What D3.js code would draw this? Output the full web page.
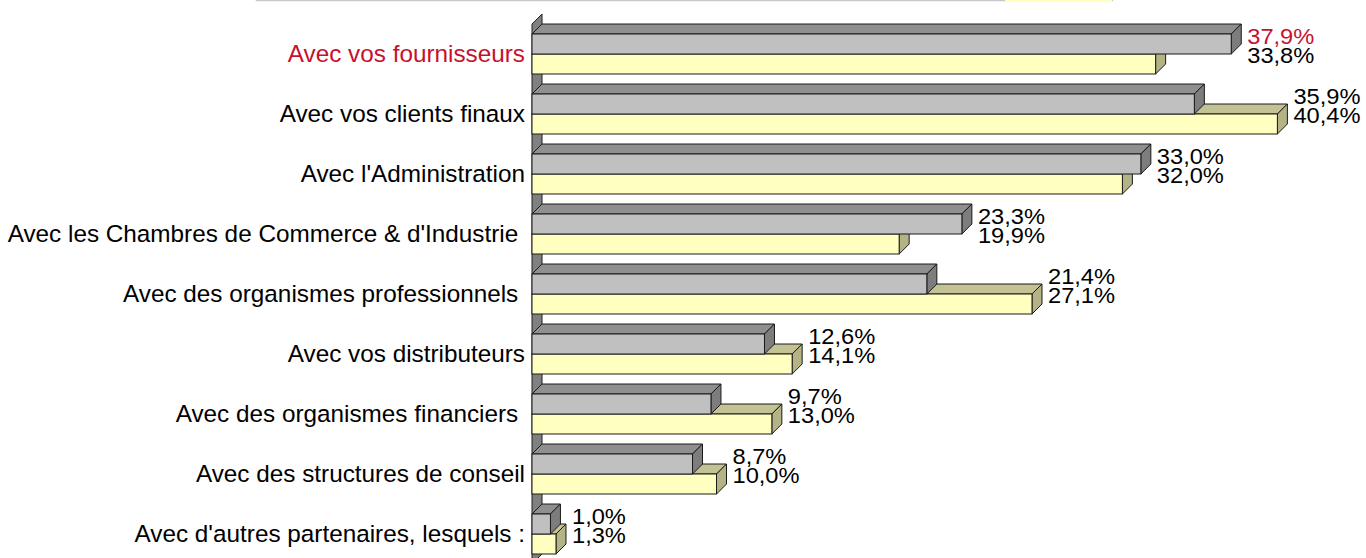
<!DOCTYPE html>
<html>
<head>
<meta charset="utf-8">
<script src="https://cdn.jsdelivr.net/npm/d3@7"></script>
<style>
  html, body { margin: 0; padding: 0; background: #fff; }
  svg { display: block; }
  text { font-family: "Liberation Sans", Arial, sans-serif; white-space: pre; }
</style>
</head>
<body>
<svg id="chart" width="1366" height="558"></svg>
<script>
// Partner categories (top to bottom)
const categories = [
  "Avec vos fournisseurs",
  "Avec vos clients finaux",
  "Avec l'Administration",
  "Avec les Chambres de Commerce & d'Industrie ",
  "Avec des organismes professionnels ",
  "Avec vos distributeurs",
  "Avec des organismes financiers ",
  "Avec des structures de conseil",
  "Avec d'autres partenaires, lesquels :"
];
const seriesNames = ["serieGris", "serieJaune"];
const valuesGris  = [37.9, 35.9, 33.0, 23.3, 21.4, 12.6, 9.7, 8.7, 1.0];
const valuesJaune = [33.8, 40.4, 32.0, 19.9, 27.1, 14.1, 13.0, 10.0, 1.3];
const highlighted = ["Avec vos fournisseurs"];

const fmt = v => d3.format(".1f")(v).replace(".", ",") + "%";

const svg = d3.select("#chart");
const depth = 10;

const x = d3.scaleLinear().domain([0, 40]).range([532, 1270]);
const y = d3.scaleBand().domain(categories).range([24, 564])
  .paddingInner(1 / 3).paddingOuter(1 / 6);
const ys = d3.scaleBand().domain(seriesNames).range([0, y.bandwidth()]);

const styles = {
  serieGris:  { front: "#c0c0c0", top: "#8f8f8f", side: "#7d7d7d" },
  serieJaune: { front: "#ffffc0", top: "#c2c294", side: "#b3b386" }
};

// Legend frame, mostly above the visible area
const legend = svg.append("g");
legend.append("rect").attr("x", 256.5).attr("y", -40).attr("width", 856).attr("height", 40.5)
  .attr("fill", "none").attr("stroke", "#c8c8c8").attr("stroke-width", 1.5);
legend.append("rect").attr("x", 1005).attr("y", -30).attr("width", 107).attr("height", 32)
  .attr("fill", "#ffffc0");

// Left side wall of the 3D plot
const x0 = x(0);
svg.append("path")
  .attr("d", `M${x0},${y.range()[0]} L${x0 + depth},${y.range()[0] - depth} L${x0 + depth},${y.range()[1] - depth} L${x0},${y.range()[1]} Z`)
  .attr("fill", "#808080").attr("stroke", "#202020").attr("stroke-width", 1);

function bar3d(g, v, yTop, h, st) {
  const xa = x0, xb = x(v);
  g.append("path")
    .attr("d", `M${xa},${yTop} L${xa + depth},${yTop - depth} L${xb + depth},${yTop - depth} L${xb},${yTop} Z`)
    .attr("fill", st.top).attr("stroke", "#1a1a1a").attr("stroke-width", 1).attr("stroke-linejoin", "round");
  g.append("path")
    .attr("d", `M${xb},${yTop} L${xb + depth},${yTop - depth} L${xb + depth},${yTop + h - depth} L${xb},${yTop + h} Z`)
    .attr("fill", st.side).attr("stroke", "#1a1a1a").attr("stroke-width", 1).attr("stroke-linejoin", "round");
  g.append("rect")
    .attr("x", xa).attr("y", yTop).attr("width", xb - xa).attr("height", h)
    .attr("fill", st.front).attr("stroke", "#1a1a1a").attr("stroke-width", 1);
}

categories.forEach((cat, i) => {
  const g = svg.append("g");
  const vals = { serieGris: valuesGris[i], serieJaune: valuesJaune[i] };
  // draw the lower series first so the upper one covers its top face
  ["serieJaune", "serieGris"].forEach(s => {
    bar3d(g, vals[s], y(cat) + ys(s), ys.bandwidth(), styles[s]);
  });

  const yc = y(cat) + y.bandwidth() / 2;
  const isHi = highlighted.includes(cat);

  // category label
  svg.append("text")
    .attr("x", 525).attr("y", yc + 8)
    .attr("text-anchor", "end")
    .attr("font-size", 24.3)
    .attr("fill", isHi ? "#c8102e" : "#000")
    .text(cat);

  // value labels, slightly widened
  const lx = Math.max(x(vals.serieGris), x(vals.serieJaune)) + depth + 6;
  svg.append("text")
    .attr("transform", `translate(${lx},${yc - 10}) scale(1.1,1)`)
    .attr("font-size", 21.5)
    .attr("fill", isHi ? "#c8102e" : "#000")
    .text(fmt(vals.serieGris));
  svg.append("text")
    .attr("transform", `translate(${lx},${yc + 9}) scale(1.1,1)`)
    .attr("font-size", 21.5)
    .attr("fill", "#000")
    .text(fmt(vals.serieJaune));
});
</script>
</body>
</html>
